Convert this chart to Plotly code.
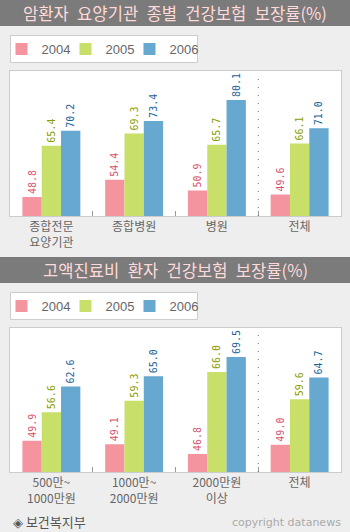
import plotly.graph_objects as go

years = ["2004", "2005", "2006"]
cats1 = ["종합전문<br>요양기관", "종합병원", "병원", "전체"]
vals1 = {
    "2004": [48.8, 54.4, 50.9, 49.6],
    "2005": [65.4, 69.3, 65.7, 66.1],
    "2006": [70.2, 73.4, 80.1, 71.0],
}
cats2 = ["500만~<br>1000만원", "1000만~<br>2000만원", "2000만원<br>이상", "전체"]
vals2 = {
    "2004": [49.9, 49.1, 46.8, 49.0],
    "2005": [56.6, 59.3, 66.0, 59.6],
    "2006": [62.6, 65.0, 69.5, 64.7],
}
SP = "\u2002"
title1 = SP.join(["암환자", "요양기관", "종별", "건강보험", "보장률(%)"])
title2 = SP.join(["고액진료비", "환자", "건강보험", "보장률(%)"])
source = "◈ 보건복지부"
credit = "copyright datanews"

bar_colors = {"2004": "#f4949f", "2005": "#c8e06a", "2006": "#66a8cf"}
label_colors = {"2004": "#d8506a", "2005": "#8a9c00", "2006": "#1a6496"}

W, H = 350, 532
def py(p):
    return 1 - p / H
def px(p):
    return p / W

fig = go.Figure()
for y in years:
    fig.add_trace(go.Bar(
        x=cats1, y=vals1[y], name=y, xaxis="x", yaxis="y",
        marker=dict(color=bar_colors[y], line=dict(width=0)),
        text=[f"{v:.1f}" for v in vals1[y]], textposition="outside",
        textangle=-90, constraintext="none", cliponaxis=False,
        textfont=dict(family="DejaVu Sans Mono", size=10, color=label_colors[y]),
        legend="legend", showlegend=True,
    ))
for y in years:
    fig.add_trace(go.Bar(
        x=cats2, y=vals2[y], name=y, xaxis="x2", yaxis="y2",
        marker=dict(color=bar_colors[y], line=dict(width=0)),
        text=[f"{v:.1f}" for v in vals2[y]], textposition="outside",
        textangle=-90, constraintext="none", cliponaxis=False,
        textfont=dict(family="DejaVu Sans Mono", size=10, color=label_colors[y]),
        legend="legend2", showlegend=True,
    ))
# invisible spacer entries so the last legend label is not clipped
for lg, xa, ya in (("legend", "x", "y"), ("legend2", "x2", "y2")):
    fig.add_trace(go.Scatter(
        x=[None], y=[None], mode="markers", name=" ", xaxis=xa, yaxis=ya,
        marker=dict(color="rgba(0,0,0,0)", size=1), hoverinfo="skip",
        legend=lg, showlegend=True,
    ))

xdom = [px(10), px(341)]
axis_x = dict(
    showline=True, mirror=True, linecolor="#cccccc", linewidth=1,
    showgrid=False, zeroline=False, tickson="boundaries", ticks="inside",
    ticklen=5, tickcolor="#999999", fixedrange=True,
    tickfont=dict(family="Noto Sans CJK KR", size=12, color="#666666"),
)
axis_y = dict(
    showline=True, mirror=True, linecolor="#cccccc", linewidth=1,
    showgrid=False, zeroline=False, showticklabels=False, ticks="",
    fixedrange=True,
)

legend_common = dict(
    orientation="h", xanchor="left", yanchor="middle",
    bgcolor="rgba(0,0,0,0)", borderwidth=0,
    font=dict(family="Liberation Sans Narrow, Liberation Sans", size=13, color="#666666"),
    entrywidth=19, entrywidthmode="pixels", traceorder="normal",
    itemclick=False, itemdoubleclick=False,
)

shapes = [
    dict(type="rect", xref="paper", yref="paper", x0=0, x1=1, y0=py(26), y1=py(0),
         fillcolor="#7b7b7b", line=dict(width=0), layer="below"),
    dict(type="rect", xref="paper", yref="paper", x0=0, x1=1, y0=py(283), y1=py(257),
         fillcolor="#7b7b7b", line=dict(width=0), layer="below"),
    dict(type="rect", xref="paper", yref="paper", x0=px(10.5), x1=px(197.5), y0=py(62.5), y1=py(35.5),
         fillcolor="white", line=dict(color="#cccccc", width=1), layer="below"),
    dict(type="rect", xref="paper", yref="paper", x0=px(10.5), x1=px(197.5), y0=py(319.5), y1=py(292.5),
         fillcolor="white", line=dict(color="#cccccc", width=1), layer="below"),
    dict(type="line", xref="x", yref="y domain", x0=2.5, x1=2.5, y0=0, y1=0.97,
         line=dict(color="#777777", width=1, dash="1px,7px")),
    dict(type="line", xref="x2", yref="y2 domain", x0=2.5, x1=2.5, y0=0, y1=0.97,
         line=dict(color="#777777", width=1, dash="1px,7px")),
]

annotations = [
    dict(text=title1, xref="paper", yref="paper", x=px(175), y=py(13), xanchor="center",
         yanchor="middle", showarrow=False,
         font=dict(family="Noto Sans CJK KR", size=16.6, color="#ffdada")),
    dict(text=title2, xref="paper", yref="paper", x=px(175), y=py(270), xanchor="center",
         yanchor="middle", showarrow=False,
         font=dict(family="Noto Sans CJK KR", size=16.6, color="#ffdada")),
    dict(text=source, xref="paper", yref="paper", x=px(11), y=py(521), xanchor="left",
         yanchor="middle", showarrow=False,
         font=dict(family="Noto Sans CJK KR", size=13, color="#555555")),
    dict(text=credit, xref="paper", yref="paper", x=px(343), y=py(522), xanchor="right",
         yanchor="middle", showarrow=False,
         font=dict(family="DejaVu Sans", size=11, color="#aaaaaa")),
]

fig.update_layout(
    width=W, height=H, margin=dict(l=0, r=0, t=0, b=0),
    paper_bgcolor="#eeeeee", plot_bgcolor="white",
    barmode="group", bargap=0.30, bargroupgap=0,
    xaxis=dict(domain=xdom, anchor="y", **axis_x),
    yaxis=dict(domain=[py(216), py(71)], anchor="x", range=[42.7, 89.5], **axis_y),
    xaxis2=dict(domain=xdom, anchor="y2", **axis_x),
    yaxis2=dict(domain=[py(472), py(328)], anchor="x2", range=[42.6, 76.3], **axis_y),
    legend=dict(x=px(1.5), y=py(49), **legend_common),
    legend2=dict(x=px(1.5), y=py(306), **legend_common),
    shapes=shapes, annotations=annotations,
    showlegend=True,
)

fig.write_html("out.html", config={"displayModeBar": False})
